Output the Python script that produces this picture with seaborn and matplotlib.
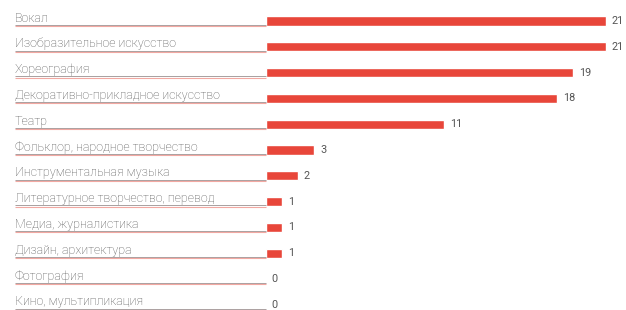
import matplotlib
matplotlib.use('Agg')
import matplotlib.pyplot as plt
import seaborn as sns
import pandas as pd

# data
categories = [
    'Вокал',
    'Изобразительное искусство',
    'Хореография',
    'Декоративно-прикладное искусство',
    'Театр',
    'Фольклор, народное творчество',
    'Инструментальная музыка',
    'Литературное творчество, перевод',
    'Медиа, журналистика',
    'Дизайн, архитектура',
    'Фотография',
    'Кино, мультипликация',
]
counts = [21, 21, 19, 18, 11, 3, 2, 1, 1, 1, 0, 0]

df = pd.DataFrame({'category': categories, 'count': counts})

sns.set_style('white')
plt.rcParams['font.family'] = ['Roboto', 'DejaVu Sans']

bar_color = '#e8463a'
text_color = '#555555'

fig = plt.figure(figsize=(6.26, 3.10), dpi=100)
ax = fig.add_axes([0, 0, 1, 1])

sns.barplot(data=df, x='count', y='category', color=bar_color,
            width=0.36, saturation=1, ax=ax)

# pixel layout: zero at x=265px, 16.2px per unit; rows every 25.8px starting at 21px
px_per_unit = 16.2
x0 = 265.5
ax.set_xlim(-x0 / px_per_unit, (626 - x0) / px_per_unit)
row = 25.8
ax.set_ylim((310 - 21) / row, -21 / row)
ax.axis('off')

label_left = (15 - x0) / px_per_unit
for i, (cat, val) in enumerate(zip(categories, counts)):
    # underline: thin grey line with a pink edge below
    ax.plot([label_left, 0], [i + 0.15, i + 0.15], color='#9a9090', lw=0.6,
            solid_capstyle='butt', zorder=1)
    ax.plot([label_left, 0], [i + 0.19, i + 0.19], color='#f2a8a2', lw=0.8,
            solid_capstyle='butt', zorder=1)
    ax.text(label_left, i + 0.02, cat, fontsize=9.0, color=text_color,
            fontweight='light', va='baseline', ha='left')
    ax.text(val + 6 / px_per_unit, i + 0.12, str(val), fontsize=7.8,
            color=text_color, va='baseline', ha='left')

fig.savefig('out.png', dpi=100)
